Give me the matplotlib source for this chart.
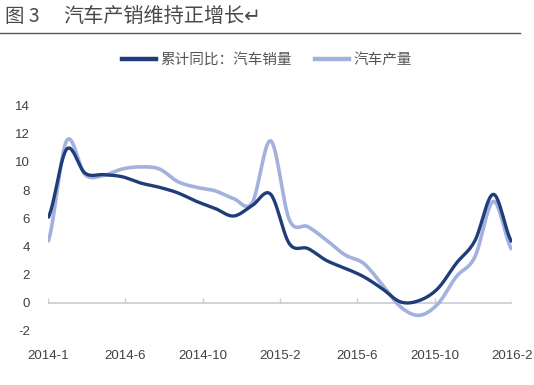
import numpy as np
import matplotlib
matplotlib.use("Agg")
import matplotlib.pyplot as plt
from matplotlib.lines import Line2D

plt.rcParams['font.family'] = ['Noto Sans CJK SC', 'DejaVu Sans']

# monthly data, 2014-1 .. 2016-2 (26 points)
sales = [6.0, 10.9, 9.2, 9.1, 8.95, 8.5, 8.2, 7.8, 7.2, 6.7, 6.16, 6.9, 7.7,
         4.2, 3.85, 3.0, 2.45, 1.85, 1.0, 0.05, 0.15, 1.0, 2.8, 4.4, 7.7, 4.3]
production = [4.3, 11.5, 9.1, 9.05, 9.5, 9.65, 9.5, 8.6, 8.2, 7.95, 7.4, 7.1, 11.5,
              5.9, 5.4, 4.45, 3.4, 2.8, 1.3, -0.3, -0.9, -0.1, 1.85, 3.25, 7.2, 3.75]
tick_labels = ['2014-1', '2014-6', '2014-10', '2015-2', '2015-6', '2015-10', '2016-2']
yticks = [-2, 0, 2, 4, 6, 8, 10, 12, 14]

dark = '#1f3e79'
light = '#a3b1de'
gray = '#404040'


def smooth(vals, n=24):
    # catmull-rom through the points, like excel's smoothed line
    v = np.asarray(vals, dtype=float)
    p = np.concatenate([[v[0]], v, [v[-1]]])
    xs, ys = [], []
    t = np.linspace(0, 1, n, endpoint=False)
    for i in range(len(v) - 1):
        p0, p1, p2, p3 = p[i], p[i + 1], p[i + 2], p[i + 3]
        y = 0.5 * (2 * p1 + (-p0 + p2) * t + (2 * p0 - 5 * p1 + 4 * p2 - p3) * t ** 2
                   + (-p0 + 3 * p1 - 3 * p2 + p3) * t ** 3)
        xs.extend(i + t)
        ys.extend(y)
    xs.append(len(v) - 1)
    ys.append(v[-1])
    return np.array(xs), np.array(ys)


fig = plt.figure(figsize=(5.34, 3.85), dpi=100)
ax = fig.add_axes([48 / 534, 1 - 330.8 / 385, 464 / 534, 225.1 / 385])

n = len(sales)
ax.axhline(0, color='#c9ccd6', lw=1.2, zorder=1)
tick_pos = np.linspace(0, n - 1, len(tick_labels))
ax.vlines(tick_pos, 0, 0.3, color='#c9ccd6', lw=1.0, zorder=1)

xp, yp = smooth(production)
xs, ys = smooth(sales)
ax.plot(xp, yp, color=light, lw=2.6, solid_capstyle='butt', zorder=2)
ax.plot(xs, ys, color=dark, lw=2.4, solid_capstyle='butt', zorder=3)

ax.set_xlim(0, n - 1)
ax.set_ylim(-2, 14)
ax.set_yticks(yticks)
ax.set_yticklabels([str(v) for v in yticks], family=['Liberation Sans', 'DejaVu Sans'])
ax.set_xticks(tick_pos)
ax.set_xticklabels(tick_labels, family=['Liberation Sans', 'DejaVu Sans'])
ax.tick_params(axis='both', length=0, labelsize=9.5, colors=gray)
ax.tick_params(axis='y', pad=13)
ax.tick_params(axis='x', pad=14)
for s in ax.spines.values():
    s.set_visible(False)

# title with rule under it
fig.text(5 / 534, 1 - 16 / 385, '图 3', fontsize=14, color='#4a4a4a', va='center', ha='left')
fig.text(63 / 534, 1 - 16 / 385, '汽车产销维持正增长↵', fontsize=14.5, color='#4a4a4a',
         va='center', ha='left')
fig.add_artist(Line2D([0, 520 / 534], [1 - 33 / 385, 1 - 33 / 385], color='#555555', lw=1.0))

handles = [Line2D([], [], color=dark, lw=3.2), Line2D([], [], color=light, lw=3.2)]
fig.legend(handles, ['累计同比：汽车销量', '汽车产量'], loc='center', ncol=2,
           bbox_to_anchor=(267 / 534, 1 - 60 / 385), frameon=False, fontsize=10.5,
           handlelength=2.3, handletextpad=0.3, columnspacing=1.6, labelcolor='#555555')

fig.savefig('out.png', dpi=100, facecolor='white')
